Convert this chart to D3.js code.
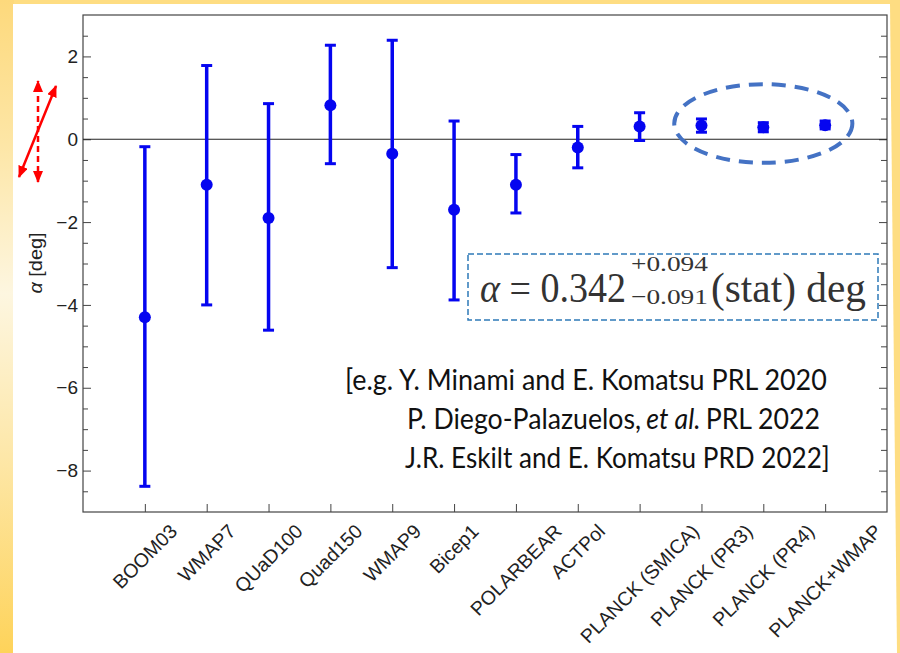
<!DOCTYPE html>
<html><head><meta charset="utf-8">
<script src="https://cdn.jsdelivr.net/npm/d3@7/dist/d3.min.js"></script>
<style>body{margin:0;overflow:hidden;background:#fedd80} svg{display:block}</style>
</head><body>
<svg id="c" width="900" height="653"></svg>
<script>
// ---- data ----
const categories = ["BOOM03","WMAP7","QUaD100","Quad150","WMAP9","Bicep1","POLARBEAR","ACTPol","PLANCK (SMICA)","PLANCK (PR3)","PLANCK (PR4)","PLANCK+WMAP"];
const alphaValues = [-4.30,-1.10,-1.90,0.82,-0.35,-1.70,-1.10,-0.20,0.31,0.33,0.29,0.34];
const upperBounds = [-0.18,1.78,0.86,2.27,2.39,0.44,-0.37,0.31,0.64,0.49,0.40,0.44];
const lowerBounds = [-8.38,-4.00,-4.61,-0.59,-3.10,-3.88,-1.78,-0.69,-0.03,0.17,0.18,0.25];
const yTicks = [-8,-6,-4,-2,0,2];
const yMinorTicks = [-8.5,-7.5,-7,-6.5,-5.5,-5,-4.5,-3.5,-3,-2.5,-1.5,-1,-0.5,0.5,1,1.5,2.5];
const yLabel = "[deg]";
const formulaMain = "0.342";
const formulaSup = "+0.094";
const formulaSub = "\u22120.091";
const formulaTail = "(stat) deg";
const citeLines = ["[e.g. Y. Minami and E. Komatsu PRL 2020", "P. Diego-Palazuelos, |et al.| PRL 2022", "J.R. Eskilt and E. Komatsu PRD 2022]"];

const svg = d3.select("#c");
const W = 900, H = 653;
const L = 83, R = 887, T = 15, B = 512;

// ---- background ----
const defs = svg.append("defs");
const lg = defs.append("linearGradient").attr("id","leftg").attr("x1",0).attr("y1",0).attr("x2",0).attr("y2",1);
[[0,"#fdd97c"],[0.22,"#fde6a6"],[0.45,"#fdf6e0"],[0.7,"#fde7a8"],[1,"#fed35a"]].forEach(s=>lg.append("stop").attr("offset",s[0]).attr("stop-color",s[1]));
svg.append("rect").attr("width",W).attr("height",H).attr("fill","#fedd82");
svg.append("rect").attr("x",0).attr("y",0).attr("width",14).attr("height",H).attr("fill","url(#leftg)");
svg.append("polygon").attr("points","13,4 890,4 897,653 13,653").attr("fill","#ffffff");

// markers
defs.append("marker").attr("id","ah").attr("markerUnits","userSpaceOnUse")
  .attr("markerWidth",12).attr("markerHeight",10).attr("refX",11).attr("refY",5)
  .attr("orient","auto-start-reverse")
  .append("path").attr("d","M0,0 L12,5 L0,10 Z").attr("fill","#ff0000");

// ---- scales ----
const x = d3.scalePoint().domain(categories).range([L,R]).padding(1);
const y = d3.scaleLinear().domain([-9,3]).range([B,T]);

const axisColor = "#444";
const sans = "Liberation Sans, Arial, sans-serif";
svg.append("rect").attr("x",L).attr("y",T).attr("width",R-L).attr("height",B-T)
  .attr("fill","none").attr("stroke",axisColor).attr("stroke-width",1.2);

const gl = svg.append("g").attr("transform",`translate(${L},0)`)
  .call(d3.axisLeft(y).tickValues(yTicks).tickSizeInner(-8).tickSizeOuter(0).tickPadding(5)
    .tickFormat(d=> d<0 ? "\u2212"+Math.abs(d) : d));
gl.select(".domain").remove();
gl.selectAll("line").attr("stroke",axisColor);
gl.selectAll("text").attr("font-family",sans).attr("font-size",19).attr("fill","#222");
const glm = svg.append("g").attr("transform",`translate(${L},0)`)
  .call(d3.axisLeft(y).tickValues(yMinorTicks).tickSizeInner(-5).tickSizeOuter(0).tickFormat(""));
glm.select(".domain").remove(); glm.selectAll("line").attr("stroke",axisColor);
const gr = svg.append("g").attr("transform",`translate(${R},0)`)
  .call(d3.axisRight(y).tickValues(yTicks).tickSizeInner(-8).tickSizeOuter(0).tickFormat(""));
gr.select(".domain").remove(); gr.selectAll("line").attr("stroke",axisColor);
const grm = svg.append("g").attr("transform",`translate(${R},0)`)
  .call(d3.axisRight(y).tickValues(yMinorTicks).tickSizeInner(-6).tickSizeOuter(0).tickFormat(""));
grm.select(".domain").remove(); grm.selectAll("line").attr("stroke",axisColor);
const gb = svg.append("g").attr("transform",`translate(0,${B})`)
  .call(d3.axisBottom(x).tickSizeInner(-8).tickSizeOuter(0).tickFormat(""));
gb.select(".domain").remove(); gb.selectAll("line").attr("stroke",axisColor);

// rotated category labels
const lab = svg.append("g").attr("font-family",sans).attr("font-size",19.5).attr("fill","#222");
categories.forEach(c=>{
  const t = lab.append("text").attr("text-anchor","middle").attr("dy","0.35em").text(c);
  const w = t.node().getComputedTextLength();
  const cy = B + 9 + (w + 19) * 0.354;
  t.attr("transform",`translate(${x(c)},${cy}) rotate(-45)`);
});

// y label
svg.append("text").attr("transform","translate(42,263) rotate(-90)").attr("text-anchor","middle")
  .attr("font-family",sans).attr("font-size",18).attr("fill","#222")
  .attr("textLength",61).attr("lengthAdjust","spacingAndGlyphs")
  .call(t=>{ t.append("tspan").attr("font-style","italic").text("\u03b1"); t.append("tspan").text(" "+yLabel); });

// zero line
svg.append("line").attr("x1",L).attr("x2",R).attr("y1",y(0)).attr("y2",y(0)).attr("stroke","#222").attr("stroke-width",1.2);

// error bars
const blue = "#0505f0";
const eb = svg.append("g").attr("stroke",blue);
categories.forEach((c,i)=>{
  const cx = x(c);
  eb.append("line").attr("x1",cx).attr("x2",cx).attr("y1",y(upperBounds[i])).attr("y2",y(lowerBounds[i])).attr("stroke-width",3.5);
  [upperBounds[i],lowerBounds[i]].forEach(v=>{
    eb.append("line").attr("x1",cx-5.5).attr("x2",cx+5.5).attr("y1",y(v)).attr("y2",y(v)).attr("stroke-width",3);
  });
});
svg.append("g").selectAll("circle").data(categories).join("circle")
  .attr("cx",d=>x(d)).attr("cy",(d,i)=>y(alphaValues[i])).attr("r",6).attr("fill",blue);

// ellipse around last three
const step = x.step();
svg.append("ellipse").attr("cx",x("PLANCK (PR4)")).attr("cy",y(0.38))
  .attr("rx",step*1.44).attr("ry",(y(0)-y(0.95)))
  .attr("fill","none").attr("stroke","#4472c4").attr("stroke-width",4).attr("stroke-dasharray","14,9");

// helper: text squeezed horizontally to a given width via transform
function fitText(parent, x0, yb, width, size, build){
  const g = parent.append("g");
  const t = g.append("text").attr("x",0).attr("y",0).attr("font-size",size);
  build(t);
  const w = t.node().getComputedTextLength();
  g.attr("transform",`translate(${x0},${yb}) scale(${width/w},1)`);
  return g;
}

// formula box
svg.append("rect").attr("x",468).attr("y",254).attr("width",410).attr("height",66)
  .attr("fill","#fff").attr("stroke","#2e7ab8").attr("stroke-width",1.5).attr("stroke-dasharray","6,3");
const fg = svg.append("g").attr("font-family","Liberation Serif, Times New Roman, serif").attr("fill","#333");
const base = 301.5;
fitText(fg, 480, base, 146, 42, t=>{ t.append("tspan").attr("font-style","italic").text("\u03b1"); t.append("tspan").text(" = " + formulaMain); });
fitText(fg, 631, 270.5, 77, 22, t=>t.text(formulaSup));
fitText(fg, 631, 304, 77, 22, t=>t.text(formulaSub));
fitText(fg, 711, base, 155, 42, t=>t.text(formulaTail));

// citation: each line one group squeezed to measured width
const cg = svg.append("g").attr("font-family","Lato, Open Sans, sans-serif").attr("fill","#111");
const cpos = [[345,390,482],[407,429,413],[405,467.5,425]];
citeLines.forEach((ln,i)=>{
  const g = cg.append("g");
  const parts = ln.split("|");
  let cx = 0;
  const fs = 28.5;
  parts.forEach((part,j)=>{
    const lead = part.match(/^ */)[0].length;
    const t = g.append("text").attr("y",0).attr("font-size",fs).attr("font-style", j===1?"italic":"normal").text(part.trim());
    const sp = fs*0.193;
    t.attr("x", cx + lead*sp);
    const trail = part.match(/ *$/)[0].length;
    cx += lead*sp + t.node().getComputedTextLength() + trail*sp;
  });
  g.attr("transform",`translate(${cpos[i][0]},${cpos[i][1]}) scale(${cpos[i][2]/cx},1)`);
});

// red arrows
svg.append("line").attr("x1",19).attr("y1",177).attr("x2",56).attr("y2",86)
  .attr("stroke","#ff0000").attr("stroke-width",2.5).attr("marker-start","url(#ah)").attr("marker-end","url(#ah)");
svg.append("line").attr("x1",38).attr("y1",182).attr("x2",38).attr("y2",81)
  .attr("stroke","#ff0000").attr("stroke-width",2.5).attr("stroke-dasharray","6,4").attr("marker-start","url(#ah)").attr("marker-end","url(#ah)");
</script>
</body></html>
